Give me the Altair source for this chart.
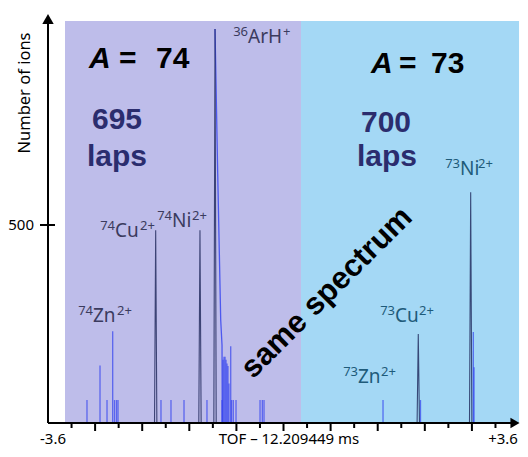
import altair as alt
import pandas as pd
import numpy as np

# ---------------- data ----------------
# x = TOF - 12.209449 ms (in the plot's own units, axis -3.6 .. +3.6)
peak_tof = [-1.954, -1.277, -1.047, 2.060, 2.861]      # 74Cu, 74Ni, 36ArH, 73Cu, 73Ni
peak_counts = [487, 487, 995, 225, 583]

bar_tof = [-3.004, -2.805, -2.698, -2.611, -2.583, -2.553, -2.530,
           -1.873, -1.720, -1.521, -1.170,
           -0.940, -0.925, -0.910, -0.894, -0.879, -0.864, -0.849, -0.834,
           -0.807, -0.795, -0.768, -0.726, -0.359, -0.324, -0.298,
           1.521, 2.094, 2.901, 2.912]
bar_counts = [58, 145, 58, 232, 58, 58, 58,
              58, 58, 58, 58,
              58, 160, 167, 167, 160, 150, 144, 100,
              194, 58, 58, 58, 58, 58, 58,
              58, 58, 230, 141]

tail_tof = [-1.047, -1.006, -0.960, -0.940, -0.936]
tail_counts = [995, 631, 260, 197, 0]

region_left = [-3.34, 0.267]
region_right = [0.267, 3.60]
region_top = 1015
region_colors = ["#BEBDEA", "#A4D8F5"]

# peak labels: mass number, element, charge
label_mass = ["74", "74", "74", "36", "73", "73", "73"]
label_elem = ["Zn", "Cu", "Ni", "ArH", "Ni", "Cu", "Zn"]
label_charge = ["2+", "2+", "2+", "+", "2+", "2+", "2+"]

# ---------------- layout ----------------
PXU = 65.42              # pixels per TOF unit
W, H = 472, 413
X0 = -3.6
X1 = X0 + W / PXU
YMAX = 1043
OX, OY = 48, 10          # page position of plot origin

xs = alt.Scale(domain=[X0, X1], nice=False, zero=False)
ys = alt.Scale(domain=[0, YMAX], nice=False, zero=True)

one = pd.DataFrame({"d": [0]})

bg_df = pd.DataFrame({"x": [region_left[0], region_right[0]],
                      "x2": [region_left[1], region_right[1]],
                      "top": [region_top, region_top],
                      "zero": [0, 0],
                      "c": region_colors})
bg = alt.Chart(bg_df).mark_rect().encode(
    x=alt.X("x:Q", scale=xs, axis=None),
    x2="x2:Q",
    y=alt.Y("top:Q", scale=ys, axis=None),
    y2="zero:Q",
    color=alt.Color("c:N", scale=None),
)

bars_df = pd.DataFrame({"x": bar_tof, "y": bar_counts, "zero": 0})
bars = alt.Chart(bars_df).mark_rule(color="#2F3FF0", opacity=0.7, strokeWidth=1.3).encode(
    x=alt.X("x:Q", scale=xs, axis=None),
    y=alt.Y("y:Q", scale=ys, axis=None),
    y2="zero:Q",
)

tail_df = pd.DataFrame({"x": tail_tof, "y": tail_counts})
tail = alt.Chart(tail_df).mark_line(color="#2F3FF0", opacity=0.8, strokeWidth=1.3).encode(
    x=alt.X("x:Q", scale=xs, axis=None),
    y=alt.Y("y:Q", scale=ys, axis=None),
)

hw = 0.018
rows = []
for i, (px, pc) in enumerate(zip(peak_tof, peak_counts)):
    rows += [{"p": i, "o": 0, "x": px - hw, "y": 0},
             {"p": i, "o": 1, "x": px, "y": pc},
             {"p": i, "o": 2, "x": px + hw, "y": 0}]
spk_df = pd.DataFrame(rows)
spikes = alt.Chart(spk_df).mark_line(color="#1C2457", opacity=0.8, strokeWidth=1.1).encode(
    x=alt.X("x:Q", scale=xs, axis=None),
    y=alt.Y("y:Q", scale=ys, axis=None),
    detail="p:N",
    order="o:Q",
)

# ---------------- axes (drawn) ----------------
axis_col = "#000000"
xaxis = alt.Chart(one).mark_rule(color=axis_col, strokeWidth=2).encode(
    x=alt.value(0), x2=alt.value(464), y=alt.value(H))
yaxis = alt.Chart(one).mark_rule(color=axis_col, strokeWidth=2).encode(
    x=alt.value(0), y=alt.value(H), y2=alt.value(12))
xarrow = alt.Chart(one).mark_point(shape="triangle-right", filled=True, color=axis_col,
                                    size=110, opacity=1).encode(
    x=alt.value(467), y=alt.value(H))
yarrow = alt.Chart(one).mark_point(shape="triangle-up", filled=True, color=axis_col,
                                    size=130, opacity=1).encode(
    x=alt.value(0), y=alt.value(9))

major = pd.DataFrame({"x": X0 + 0.72 * np.arange(1, 10)})
minor = pd.DataFrame({"x": X0 + 0.36 + 0.72 * np.arange(0, 10)})
major_t = alt.Chart(major).mark_rule(color=axis_col, strokeWidth=2).encode(
    x=alt.X("x:Q", scale=xs, axis=None), y=alt.value(H), y2=alt.value(H + 8))
minor_t = alt.Chart(minor).mark_rule(color=axis_col, strokeWidth=2).encode(
    x=alt.X("x:Q", scale=xs, axis=None), y=alt.value(H), y2=alt.value(H + 5))
ytick = alt.Chart(pd.DataFrame({"y": [500]})).mark_rule(color=axis_col, strokeWidth=2).encode(
    x=alt.value(-8), x2=alt.value(7), y=alt.Y("y:Q", scale=ys, axis=None))


def txt(t, x, y, size, color="#000000", weight="normal", style="normal",
        align="center", baseline="alphabetic", angle=0, font="Noto Sans"):
    kw = dict(text=t, fontSize=size, color=color, fontWeight=weight, fontStyle=style,
              align=align, baseline=baseline, font=font)
    if angle:
        kw["angle"] = angle
    return alt.Chart(one).mark_text(**kw).encode(x=alt.value(x - OX), y=alt.value(y - OY))


LS = "Liberation Sans"
navy = "#2B2D6E"
lab_l = "#3B3B5E"
lab_r = "#1E5B7A"
texts = [
    txt("A", 89, 68, 30, weight="bold", style="italic", align="left", font=LS),
    txt("=", 119, 68, 30, weight="bold", align="left", font=LS),
    txt("74", 156, 68, 30, weight="bold", align="left", font=LS),
    txt("A", 371, 73, 30, weight="bold", style="italic", align="left", font=LS),
    txt("=", 399, 73, 30, weight="bold", align="left", font=LS),
    txt("73", 431, 73, 30, weight="bold", align="left", font=LS),
    txt("695", 117, 129, 30, color=navy, weight="bold", font=LS),
    txt("laps", 117, 166, 30, color=navy, weight="bold", font=LS),
    txt("700", 386, 132, 30, color=navy, weight="bold", font=LS),
    txt("laps", 387, 166, 30, color=navy, weight="bold", font=LS),
    txt("same spectrum", 327, 293, 31, weight="bold", baseline="middle", angle=315, font=LS),
    txt("Number of ions", 25, 93, 16.5, baseline="middle", angle=270),
    txt("500", 34, 225, 15, align="right", baseline="middle"),
    txt("-3.6", 53, 444, 15),
    txt("+3.6", 503, 444, 15),
    txt("TOF – 12.209449 ms", 289, 447, 15, baseline="bottom"),
]

# label placement: (left edge of element, right edge of element, baseline, colour)
label_pos = [(93, 117, 322, lab_l), (115, 140, 237, lab_l), (172, 192, 227, lab_l),
             (248, 283, 43, lab_l), (460, 478, 175, lab_r), (395, 419, 322, lab_r),
             (358, 381, 383, lab_r)]
for m, e, c, (xl, xr, yb, col) in zip(label_mass, label_elem, label_charge, label_pos):
    texts.append(txt(m, xl, yb - 7, 13, color=col, align="right"))
    texts.append(txt(e, xl, yb, 19, color=col, align="left"))
    texts.append(txt(c, xr, yb - 7, 13, color=col, align="left"))

chart = alt.layer(
    bg, bars, tail, spikes,
    xaxis, yaxis, major_t, minor_t, ytick, xarrow, yarrow,
    *texts
).properties(
    width=W, height=H,
    autosize=alt.AutoSizeParams(type="none"),
    padding={"left": OX - 8, "top": OY - 8, "right": 0, "bottom": 26},
    background="white",
).configure_view(stroke=None)

chart.save("out.html", embed_options={"renderer": "svg", "actions": False})
